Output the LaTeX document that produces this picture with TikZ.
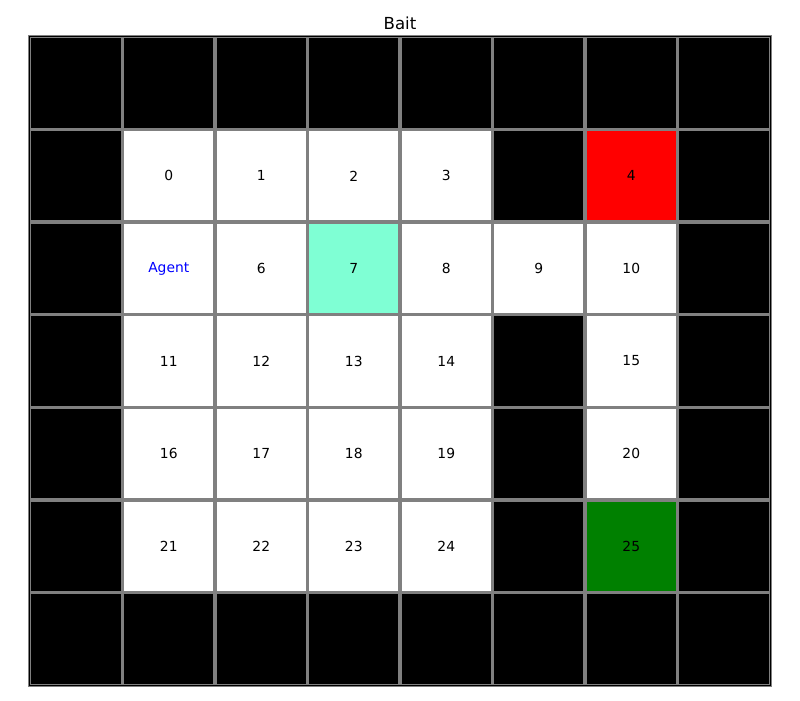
\documentclass[tikz,border=0pt]{standalone}
\usepackage{fontspec}
\setmainfont{DejaVu Sans}
\usepackage{xcolor}
\definecolor{cGrid}{HTML}{808080}
\definecolor{cGoal}{HTML}{008000}
\definecolor{cBait}{HTML}{FF0000}
\definecolor{cMark}{HTML}{7FFFD4}
\definecolor{cAgent}{HTML}{0000FF}
\usepackage{tikz}
\usetikzlibrary{positioning}
\tikzset{
  cell/.style={minimum width=2.3125cm,
    minimum height=2.314cm,inner sep=0pt,font=\fontsize{9.85}{12}\selectfont},
  cell-wall/.style={cell,fill=black},
  cell-free/.style={cell,fill=white},
  cell-bait/.style={cell,fill=cBait},
  cell-goal/.style={cell,fill=cGoal},
  cell-mark/.style={cell,fill=cMark},
  label-agent/.style={text=cAgent},
  grid-line/.style={draw=cGrid,line width=2pt},
}

\begin{document}
\begin{tikzpicture}[x=0.025cm,y=-0.025cm]
  \useasboundingbox (0,0) rectangle (800,700);
  \node[font=\fontsize{11.8}{14}\selectfont] (title) at (400,23) {Bait};
  % walls everywhere first
  \foreach \r in {0,...,6}
    \foreach \c in {0,...,7}
      \node[cell-wall] (w-\r-\c) at ({30+92.5*(\c+0.5)},{37+92.57*(\r+0.5)}) {};
  % open cells: label/row/col
  \foreach \lbl/\r/\c in {0/1/1,1/1/2,2/1/3,3/1/4,
      6/2/2,8/2/4,9/2/5,10/2/6,
      11/3/1,12/3/2,13/3/3,14/3/4,15/3/6,
      16/4/1,17/4/2,18/4/3,19/4/4,20/4/6,
      21/5/1,22/5/2,23/5/3,24/5/4}
    \node[cell-free] (s\lbl) at ({30+92.5*(\c+0.5)},{37+92.57*(\r+0.5)}) {\lbl};
  \node[cell-free,label-agent] (agent) at ({30+92.5*1.5},{37+92.57*2.5}) {Agent};
  \node[cell-mark] (s7) at ({30+92.5*3.5},{37+92.57*2.5}) {7};
  \node[cell-bait] (s4) at ({30+92.5*6.5},{37+92.57*1.5}) {4};
  \node[cell-goal] (s25) at ({30+92.5*6.5},{37+92.57*5.5}) {25};
  % cell borders on top, same width everywhere
  \foreach \r in {0,...,6}
    \foreach \c in {0,...,7}
      \draw[grid-line] (w-\r-\c.north west) rectangle (w-\r-\c.south east);
  \draw[black,line width=0.6pt] (w-0-0.north west) rectangle (w-6-7.south east);
\end{tikzpicture}
\end{document}
